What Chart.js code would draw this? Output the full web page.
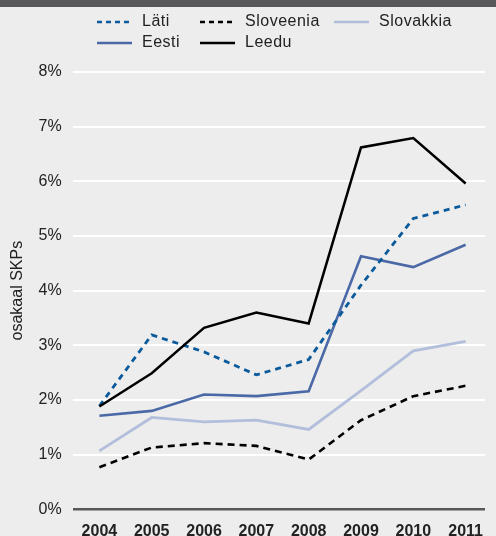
<!DOCTYPE html>
<html>
<head>
<meta charset="utf-8">
<script src="https://cdn.jsdelivr.net/npm/chart.js@4/dist/chart.umd.min.js"></script>
<style>
  html, body { margin: 0; padding: 0; background: #ecedec; overflow: hidden; }
  #wrap { width: 496px; height: 536px; }
</style>
</head>
<body>
<div id="wrap"><canvas id="c" width="496" height="536"></canvas></div>
<script>
// Years on the horizontal axis
const years = [2004, 2005, 2006, 2007, 2008, 2009, 2010, 2011];

// Share of GDP, per country (%)
const lati      = [1.89, 3.19, 2.88, 2.46, 2.74, 4.10, 5.32, 5.57];
const eesti     = [1.71, 1.80, 2.10, 2.07, 2.16, 4.63, 4.43, 4.84];
const sloveenia = [0.77, 1.13, 1.21, 1.16, 0.91, 1.63, 2.07, 2.26];
const leedu     = [1.88, 2.49, 3.32, 3.60, 3.40, 6.62, 6.79, 5.96];
const slovakkia = [1.07, 1.68, 1.60, 1.63, 1.46, 2.17, 2.90, 3.07];

// Value-axis ticks
const yTicks = [0, 1, 2, 3, 4, 5, 6, 7, 8];

const FONT = 'Liberation Sans, Arial, Helvetica, sans-serif';
const TEXT = '#222222';

const pts = arr => arr.map((v, i) => ({ x: years[i], y: v }));

function series(label, data, color, dash, width) {
  return {
    label, data: pts(data),
    borderColor: color, backgroundColor: color,
    borderWidth: width || 2.5, borderDash: dash || [],
    borderCapStyle: 'butt', borderJoinStyle: 'miter',
    pointRadius: 0, tension: 0, fill: false
  };
}

// First dataset is painted last (on top)
const datasets = [
  series('Leedu', leedu, '#000000'),
  series('Läti', lati, '#0b5a9b', [6, 5], 2.8),
  series('Sloveenia', sloveenia, '#000000', [7, 5], 2.6),
  series('Eesti', eesti, '#4b69a6', [], 2.6),
  series('Slovakkia', slovakkia, '#b3bedc', [], 2.8)
];

// Legend arranged in a fixed grid of rows and columns
const legendLayout = [
  { label: 'Läti',      x: 97,  y: 22 },
  { label: 'Sloveenia', x: 200, y: 22 },
  { label: 'Slovakkia', x: 334, y: 22 },
  { label: 'Eesti',     x: 97,  y: 43 },
  { label: 'Leedu',     x: 200, y: 43 }
];

const backdrop = {
  id: 'backdrop',
  beforeDraw(chart) {
    const ctx = chart.ctx;
    ctx.save();
    ctx.fillStyle = '#ecedec';
    ctx.fillRect(0, 0, chart.width, chart.height);
    ctx.fillStyle = '#58585a';
    ctx.fillRect(0, 0, chart.width, 7);
    ctx.restore();
  }
};

const gridLegend = {
  id: 'gridLegend',
  afterDraw(chart) {
    const ctx = chart.ctx;
    ctx.save();
    legendLayout.forEach(item => {
      const ds = chart.data.datasets.find(d => d.label === item.label);
      ctx.beginPath();
      ctx.strokeStyle = ds.borderColor;
      ctx.lineWidth = 2.5;
      ctx.lineCap = 'butt';
      ctx.setLineDash(ds.borderDash.length ? [5, 4] : []);
      ctx.moveTo(item.x, item.y);
      ctx.lineTo(item.x + 35, item.y);
      ctx.stroke();
      ctx.setLineDash([]);
      ctx.fillStyle = TEXT;
      ctx.font = '16px ' + FONT;
      if ('letterSpacing' in ctx) ctx.letterSpacing = '0.5px';
      ctx.textAlign = 'left';
      ctx.textBaseline = 'middle';
      ctx.fillText(item.label, item.x + 45, item.y);
    });
    ctx.restore();
  }
};

new Chart(document.getElementById('c'), {
  type: 'line',
  data: { datasets },
  plugins: [backdrop, gridLegend],
  options: {
    responsive: false,
    animation: false,
    layout: { padding: { top: 72, left: 0, right: 0, bottom: 0 } },
    plugins: { legend: { display: false }, tooltip: { enabled: false } },
    scales: {
      x: {
        type: 'linear',
        min: 2003.49,
        max: 2011.37,
        afterBuildTicks: s => { s.ticks = years.map(v => ({ value: v })); },
        afterFit: s => { s.height = 26.7; },
        grid: { display: false, drawTicks: false },
        border: { display: false },
        ticks: {
          padding: 13,
          color: TEXT,
          font: { family: FONT, size: 16, weight: 'bold' },
          callback: v => String(v),
          maxRotation: 0, autoSkip: false
        }
      },
      y: {
        min: 0, max: 8,
        afterBuildTicks: s => { s.ticks = yTicks.map(v => ({ value: v })); },
        afterFit: s => { s.width = 72.7; },
        border: { display: false },
        grid: {
          drawTicks: false,
          color: c => c.tick.value === 0 ? '#58585a' : '#ffffff',
          lineWidth: c => c.tick.value === 0 ? 2.5 : 2
        },
        ticks: {
          padding: 11,
          color: TEXT,
          font: { family: FONT, size: 16 },
          callback: v => v + '%'
        },
        title: {
          display: true,
          text: 'osakaal SKPs',
          color: TEXT,
          font: { family: FONT, size: 16 },
          padding: { top: 8, bottom: 0 }
        }
      }
    }
  }
});
</script>
</body>
</html>
